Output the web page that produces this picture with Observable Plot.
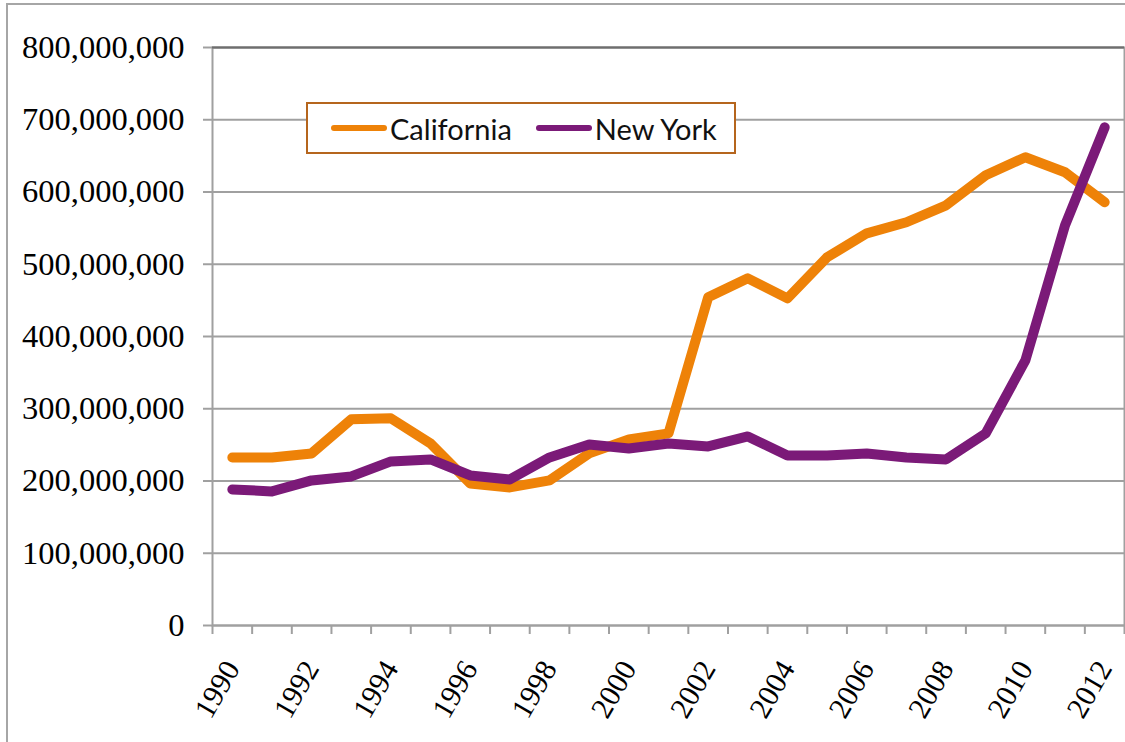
<!DOCTYPE html>
<html>
<head>
<meta charset="utf-8">
<script src="https://cdn.jsdelivr.net/npm/d3@7"></script>
<script src="https://cdn.jsdelivr.net/npm/@observablehq/plot@0.6"></script>
<style>
  html, body { margin: 0; padding: 0; background: #fff; overflow: hidden; }
  #wrap { position: relative; width: 1125px; height: 742px; overflow: hidden; }
  #outer { position: absolute; left: 6px; top: 3px; width: 1200px; height: 800px; border-left: 2px solid #a6a6a6; border-top: 2px solid #a6a6a6; box-sizing: border-box; }
  #chart { position: absolute; left: 0; top: 0; }
  #legend { position: absolute; left: 306px; top: 102px; width: 430px; height: 52px; box-sizing: border-box;
    border: 2px solid #b5651d; background: #fff; display: flex; align-items: center;
    font-family: Lato, "Open Sans", sans-serif; font-size: 29px; color: #111; }
  .item { display: flex; align-items: center; }
  .sw { width: 56px; height: 6px; border-radius: 3px; margin-right: 3px; }
</style>
</head>
<body>
<div id="wrap">
  <div id="outer"></div>
  <div id="chart"></div>
  <div id="legend"></div>
</div>
<script>
const years = [1990,1991,1992,1993,1994,1995,1996,1997,1998,1999,2000,2001,2002,2003,2004,2005,2006,2007,2008,2009,2010,2011,2012];
const california = [232.6,232.6,238.2,285.3,286.7,252.0,196.6,191.1,200.8,238.2,257.6,265.9,454.2,480.5,452.8,509.6,542.8,558.1,581.6,623.2,648.1,627.3,585.8];
const newYork = [188.3,185.6,200.8,206.3,227.1,229.9,207.7,202.2,232.6,250.6,245.1,252.0,247.9,261.7,235.4,235.4,238.2,232.6,229.9,265.9,367.0,553.9,689.6];
const seriesNames = ["California", "New York"];
const seriesColors = ["#ee8208", "#7b1a78"];
const yTicks = [0,100e6,200e6,300e6,400e6,500e6,600e6,700e6,800e6];
const xLabelYears = [1990,1992,1994,1996,1998,2000,2002,2004,2006,2008,2010,2012];

const rows = [];
years.forEach((yr, i) => {
  rows.push({year: yr, value: california[i] * 1e6, state: seriesNames[0]});
});
years.forEach((yr, i) => {
  rows.push({year: yr, value: newYork[i] * 1e6, state: seriesNames[1]});
});
const boundaries = years.map(y => y - 0.5).concat([years[years.length - 1] + 0.5]);
const gray = "#a0a0a0";

const chart = Plot.plot({
  width: 1125,
  height: 742,
  marginLeft: 212,
  marginRight: 1,
  marginTop: 47,
  marginBottom: 117,
  style: {fontFamily: "'Liberation Serif', 'Times New Roman', serif", background: "transparent", color: "#000"},
  x: {type: "linear", domain: [years[0] - 0.5, years[years.length - 1] + 0.5]},
  y: {domain: [0, 800e6]},
  color: {domain: seriesNames, range: seriesColors},
  marks: [
    Plot.gridY(yTicks, {stroke: gray, strokeOpacity: 1, strokeWidth: 2}),
    Plot.frame({stroke: gray, strokeWidth: 2}),
    Plot.ruleY([800e6], {stroke: "#6e6e6e", strokeWidth: 2}),
    Plot.axisY({ticks: yTicks, tickSize: 9, tickPadding: 19, tickFormat: d3.format(","), fontSize: 32.5,
      stroke: gray, strokeWidth: 2, fill: "#000", label: null}),
    Plot.axisX({ticks: boundaries, tickSize: 9, tickFormat: () => "", stroke: gray, strokeWidth: 2, label: null}),
    Plot.axisX({ticks: xLabelYears, tickSize: 0, tickPadding: 38, tickRotate: -60, fontSize: 30,
      tickFormat: d => String(d), fill: "#000", label: null}),
    Plot.line(rows, {x: "year", y: "value", z: "state", stroke: "state", strokeWidth: 10,
      strokeLinecap: "round", strokeLinejoin: "round"})
  ]
});
document.getElementById("chart").appendChild(chart);

const legend = document.getElementById("legend");
seriesNames.forEach((name, i) => {
  const item = document.createElement("div");
  item.className = "item";
  item.style.marginLeft = i === 0 ? "23px" : "24px";
  const sw = document.createElement("div");
  sw.className = "sw";
  sw.style.background = seriesColors[i];
  const label = document.createElement("span");
  label.textContent = name;
  item.appendChild(sw);
  item.appendChild(label);
  legend.appendChild(item);
});
</script>
</body>
</html>
